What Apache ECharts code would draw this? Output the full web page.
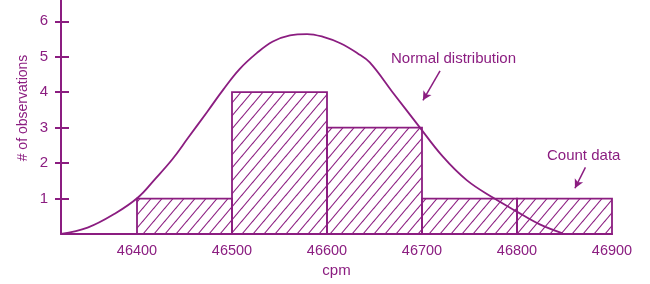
<!DOCTYPE html>
<html>
<head>
<meta charset="utf-8">
<script src="https://cdn.jsdelivr.net/npm/echarts@6/dist/echarts.min.js"></script>
<style>
html,body{margin:0;padding:0;background:#fff;}
#c{width:650px;height:284px;}
</style>
</head>
<body>
<div id="c"></div>
<script>
// ---- data ----
var binStarts = [46400, 46500, 46600, 46700, 46800];
var binEnds   = [46500, 46600, 46700, 46800, 46900];
var counts    = [1, 4, 3, 1, 1];
var curveX = [46320,46348,46377,46401,46419,46437,46454,46474,46491,46508,46526,46543,46561,46579,46596,46614,46632,46645,46669,46695,46722,46747,46775,46798,46824,46848];
var curveY = [0,0.18,0.58,1.03,1.55,2.10,2.72,3.45,4.08,4.65,5.10,5.43,5.60,5.64,5.56,5.38,5.10,4.84,4.00,3.10,2.18,1.52,1.02,0.66,0.27,0.02];
var xTickLabels = [46400, 46500, 46600, 46700, 46800, 46900];
var yTickLabels = [1, 2, 3, 4, 5, 6];

var PURPLE = '#8b1d80';
var FONT = 'Liberation Sans, Arial, sans-serif';

// hatch pattern
var tile = document.createElement('canvas');
var tw = 11, th = 13;
tile.width = tw; tile.height = th;
var tc = tile.getContext('2d');
tc.strokeStyle = PURPLE;
tc.lineWidth = 1.1;
[-1, 0, 1].forEach(function (i) {
  tc.beginPath();
  tc.moveTo(i * tw - 1, th + th / tw);
  tc.lineTo(i * tw + tw + 1, -th / tw);
  tc.stroke();
});

var bins = binStarts.map(function (s, i) { return [s, binEnds[i], counts[i]]; });
var curve = curveX.map(function (x, i) { return [x, curveY[i]]; });

var chart = echarts.init(document.getElementById('c'), null, {renderer: 'canvas'});
chart.setOption({
  animation: false,
  grid: {left: 61, right: 38, top: 0, bottom: 50, containLabel: false},
  xAxis: {
    type: 'value', min: 46320, max: 46900,
    name: 'cpm', nameLocation: 'middle', nameGap: 29,
    nameTextStyle: {color: PURPLE, fontSize: 15, fontFamily: FONT},
    axisLine: {show: true, lineStyle: {color: PURPLE, width: 2}},
    axisTick: {show: false},
    splitLine: {show: false},
    axisLabel: {customValues: xTickLabels, color: PURPLE, fontSize: 14.5, fontFamily: FONT, margin: 9,
      formatter: function (v) { return String(v); }}
  },
  yAxis: [{
    type: 'value', min: 0, max: 6.6, position: 'left',
    axisLine: {show: true, lineStyle: {color: PURPLE, width: 2}},
    axisTick: {show: true, customValues: yTickLabels, length: 6, lineStyle: {color: PURPLE, width: 2}},
    splitLine: {show: false},
    axisLabel: {customValues: yTickLabels, color: PURPLE, fontSize: 15, fontFamily: FONT, margin: 13}
  }, {
    type: 'value', min: 0, max: 6.6, position: 'left', offset: 0,
    axisLine: {show: false},
    axisTick: {show: true, inside: true, customValues: yTickLabels, length: 8, lineStyle: {color: PURPLE, width: 2}},
    splitLine: {show: false},
    axisLabel: {show: false}
  }],
  graphic: [
    {type: 'text', x: 23, y: 108, rotation: Math.PI / 2,
      style: {text: '# of observations', fill: PURPLE, font: '14px ' + FONT, align: 'center', verticalAlign: 'middle'}},
    {type: 'text', x: 391, y: 59,
      style: {text: 'Normal distribution', fill: PURPLE, font: '15px ' + FONT, align: 'left', verticalAlign: 'middle'}},
    {type: 'text', x: 547, y: 156,
      style: {text: 'Count data', fill: PURPLE, font: '15px ' + FONT, align: 'left', verticalAlign: 'middle'}}
  ],
  series: [{
    type: 'custom',
    data: bins,
    z: 2,
    renderItem: function (params, api) {
      var p0 = api.coord([api.value(0), api.value(2)]);
      var p1 = api.coord([api.value(1), 0]);
      return {
        type: 'rect',
        shape: {x: p0[0], y: p0[1], width: p1[0] - p0[0], height: p1[1] - p0[1]},
        style: {fill: {image: tile, repeat: 'repeat'}, stroke: PURPLE, lineWidth: 1.8}
      };
    }
  }, {
    type: 'line',
    data: curve,
    smooth: 0.4,
    showSymbol: false,
    z: 3,
    lineStyle: {color: PURPLE, width: 1.8},
    markLine: {
      silent: true,
      symbol: ['none', 'arrow'],
      symbolSize: [7, 9],
      label: {show: false},
      lineStyle: {color: PURPLE, width: 1.5, type: 'solid'},
      data: [
        [{coord: [46719, 4.60]}, {coord: [46701, 3.77]}],
        [{coord: [46872, 1.88]}, {coord: [46861, 1.29]}]
      ]
    }
  }]
});
</script>
</body>
</html>
